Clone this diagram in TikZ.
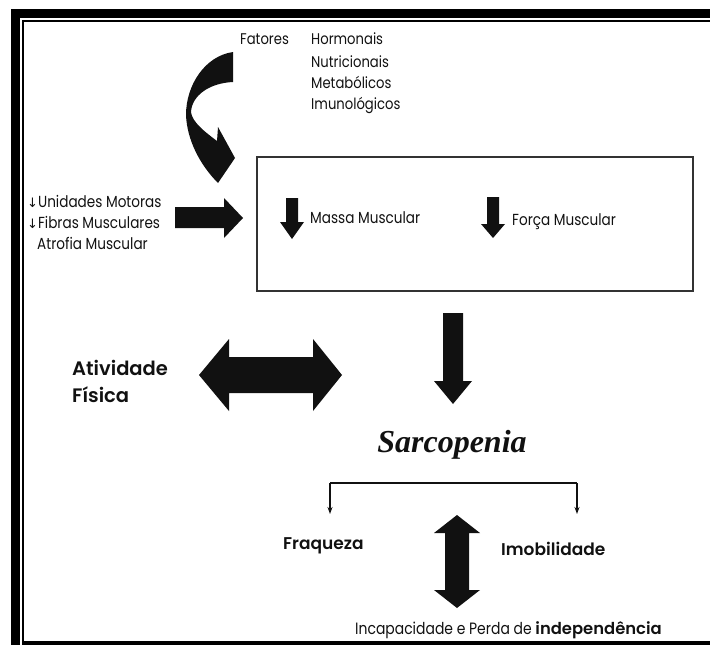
\documentclass[tikz,border=0pt]{standalone}
\usepackage{fontspec}
\setmainfont{Poppins}
\newfontfamily\cg[FakeStretch=0.85]{Poppins}
\IfFontExistsTF{Poppins SemiBold}
  {\newfontfamily\cgb{Poppins SemiBold}}
  {\newfontfamily\cgb[UprightFont=*-Bold]{Poppins}}
\newfontfamily\djv{DejaVu Sans}
\newfontfamily\tms{Liberation Serif}
\usetikzlibrary{arrows.meta}
\definecolor{ink}{HTML}{111111}
\definecolor{boxgray}{HTML}{333333}
\begin{document}
\begin{tikzpicture}[x=1pt,y=-1pt,
  txt/.style={inner sep=0pt, anchor=base west, text=ink},
  smalltxt/.style={txt, font=\cg\fontsize{15.5}{17}\selectfont},
  boxtxt/.style={txt, font=\cg\fontsize{16}{18}\selectfont},
  midtxt/.style={txt, font=\cg\fontsize{16}{18}\selectfont},
  boldtxt/.style={txt, font=\cgb\fontsize{17}{19}\selectfont},
  bigtxt/.style={txt, font=\cgb\fontsize{19.5}{22}\selectfont},
  blk/.style={fill=ink, draw=none},
  thin/.style={line width=1.4pt, draw=ink},
  tip/.style={-{Stealth[length=7pt,width=5pt]}}
]
\useasboundingbox (0,0) rectangle (710,645);
% frame
\fill[black] (11,9) rectangle (710,18);
\fill[black] (11,9) rectangle (20,645);
\fill[black] (22,20) rectangle (710,22);
\fill[black] (22,20) rectangle (24,645);
\fill[black] (22,641) rectangle (710,645);

% top texts
\node[smalltxt] (fat) at (240,45) {Fatores};
\node[smalltxt] (hor) at (311,45) {Hormonais};
\node[smalltxt] (nut) at (311,67) {Nutricionais};
\node[smalltxt] (met) at (311,88) {Metabólicos};
\node[smalltxt] (imu) at (311,109) {Imunológicos};

% curved arrow
\fill[blk] (233,52) .. controls (205,56) and (186,85) .. (186,115)
  .. controls (187,140) and (200,165) .. (218,183)
  -- (235,158) -- (218,127) -- (217,141)
  .. controls (205,132) and (192,122) .. (191,112)
  .. controls (192,95) and (210,83) .. (233,82) -- cycle;

% box
\node[draw=boxgray, line width=2pt, minimum width=436pt, minimum height=134pt, inner sep=0pt] (box) at (475,224) {};

% left list
\node[midtxt] (uni) at (27,207) {{\djv\fontsize{13}{15}\selectfont ↓}Unidades Motoras};
\node[midtxt] (fib) at (27,228) {{\djv\fontsize{13}{15}\selectfont ↓}Fibras Musculares};
\node[midtxt] (atr) at (37,249) {Atrofia Muscular};

% right arrow into box
\fill[blk] (175,207) -- (224,207) -- (224,198) -- (243,218) -- (224,238) -- (224,228) -- (175,228) -- cycle;

% inside box
\fill[blk] (286,198) -- (298,198) -- (298,222) -- (304,222) -- (292,239) -- (280,222) -- (286,222) -- cycle;
\node[boxtxt] (mas) at (310,223) {Massa Muscular};
\fill[blk] (487,197) -- (499,197) -- (499,224) -- (505,224) -- (493,238) -- (481,224) -- (487,224) -- cycle;
\node[boxtxt] (for) at (512,225) {Força Muscular};

% atividade fisica
\node[bigtxt] (ati) at (72,375) {Atividade};
\node[bigtxt] (fis) at (72,402) {Física};
\fill[blk] (199,375) -- (229,339) -- (229,357) -- (313,357) -- (313,339) -- (342,375)
  -- (313,411) -- (313,393) -- (229,393) -- (229,411) -- cycle;

% down arrow to sarcopenia
\fill[blk] (443,313) -- (463,313) -- (463,381) -- (472,381) -- (453,404) -- (434,381) -- (443,381) -- cycle;
\node[txt, font=\tms\bfseries\itshape\fontsize{32}{36}\selectfont, anchor=center] (sar) at (452,445) {Sarcopenia};

% bracket
\coordinate (bl) at (330,483);
\coordinate (br) at (577,483);
\coordinate (blend) at (330,514);
\coordinate (brend) at (577,514);
\draw[thin] (bl) -- (br);
\draw[thin, tip] (bl) -- (blend);
\draw[thin, tip] (br) -- (brend);
\node[boldtxt] (fra) at (283,549) {Fraqueza};
\node[boldtxt] (imo) at (501,555) {Imobilidade};

% vertical double arrow
\fill[blk] (457,515) -- (480,533) -- (469,533) -- (469,590) -- (480,590) -- (457,608)
  -- (434,590) -- (445,590) -- (445,533) -- (434,533) -- cycle;

% bottom text
\node[txt, font=\cg\fontsize{16.4}{19}\selectfont] (inc) at (355,634) {Incapacidade e Perda de {\cgb independência}};
\end{tikzpicture}
\end{document}
